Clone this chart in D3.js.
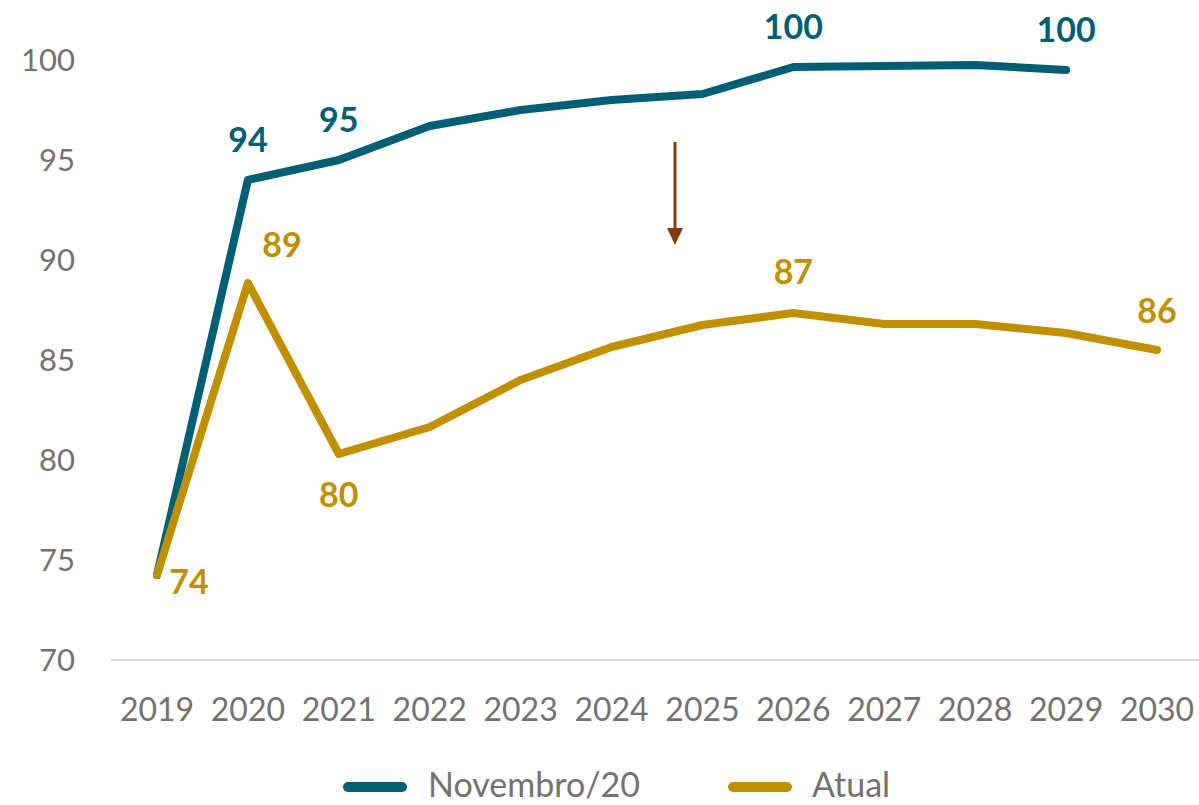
<!DOCTYPE html>
<html><head><meta charset="utf-8">
<script src="https://cdn.jsdelivr.net/npm/d3@7"></script>
<style>body{margin:0;background:#fff}svg{display:block}</style>
</head><body>
<svg id="c" width="1199" height="805"></svg>
<script>
const years = [2019,2020,2021,2022,2023,2024,2025,2026,2027,2028,2029,2030];
const novembro = [74.25,94.0,95.0,96.7,97.5,98.0,98.3,99.65,99.7,99.75,99.5,null];
const atual = [74.25,88.85,80.3,81.65,84.0,85.65,86.75,87.35,86.8,86.8,86.35,85.5];
const yTicks = [70,75,80,85,90,95,100];
// labels: [yearIndex, text, dx, dy]
const novLabels = [[1,"94",0,-40],[2,"95",0,-40],[7,"100",0,-40],[10,"100",0,-40]];
const atuLabels = [[0,"74",32,7],[1,"89",34,-38],[2,"80",0,41],[7,"87",0,-41],[11,"86",0,-39]];
const seriesNames = ["Novembro/20","Atual"];
const colors = ["#005f74","#c09000"];
const font = "Lato, 'Open Sans', sans-serif";

const svg = d3.select("#c");
const x = d3.scalePoint().domain(years).range([157,1157]);
const y = d3.scaleLinear().domain([70,100]).range([660,60]);

// axis line
svg.append("line").attr("x1",111).attr("x2",1199).attr("y1",y(70)).attr("y2",y(70))
  .attr("stroke","#d9d9d9").attr("stroke-width",2);

// y labels
svg.append("g").selectAll("text").data(yTicks).join("text")
  .attr("x",75).attr("y",d=>y(d)).attr("dy","0.35em").attr("text-anchor","end")
  .attr("font-family",font).attr("font-size",31).attr("fill","#767171").text(d=>d);
// x labels
svg.append("g").selectAll("text").data(years).join("text")
  .attr("x",d=>x(d)).attr("y",710).attr("dy","0.35em").attr("text-anchor","middle")
  .attr("font-family",font).attr("font-size",32).attr("fill","#767171").text(d=>d);

const line = d3.line().defined(d=>d.v!=null).x(d=>x(d.y)).y(d=>y(d.v));
[novembro, atual].forEach((s,i)=>{
  svg.append("path").datum(years.map((yr,j)=>({y:yr,v:s[j]})))
    .attr("d",line).attr("fill","none").attr("stroke",colors[i]).attr("stroke-width",8)
    .attr("stroke-linecap","round").attr("stroke-linejoin","round");
});

function labels(arr, s, col){
  svg.append("g").selectAll("text").data(arr).join("text")
    .attr("x",d=>x(years[d[0]])+d[2]).attr("y",d=>y(s[d[0]])+d[3]).attr("dy","0.35em")
    .attr("text-anchor","middle").attr("font-family",font).attr("font-weight","bold")
    .attr("font-size",34).attr("fill",col).text(d=>d[1]);
}
labels(novLabels, novembro, colors[0]);
labels(atuLabels, atual, colors[1]);

// arrow
svg.append("line").attr("x1",675).attr("x2",675).attr("y1",y(95.9)).attr("y2",y(91.3))
  .attr("stroke","#843c0c").attr("stroke-width",3);
svg.append("path").attr("d",`M667,${y(91.6)} L683,${y(91.6)} L675,${y(90.75)} Z`).attr("fill","#843c0c");

// legend
const lg = svg.append("g");
const legX = [[348,428],[733,812]];
seriesNames.forEach((n,i)=>{
  lg.append("line").attr("x1",legX[i][0]).attr("x2",legX[i][0]+54).attr("y1",787).attr("y2",787)
    .attr("stroke",colors[i]).attr("stroke-width",10).attr("stroke-linecap","round");
  lg.append("text").attr("x",legX[i][1]).attr("y",785).attr("dy","0.35em")
    .attr("font-family",font).attr("font-size",34).attr("fill","#767171").text(n);
});
</script>
</body></html>
